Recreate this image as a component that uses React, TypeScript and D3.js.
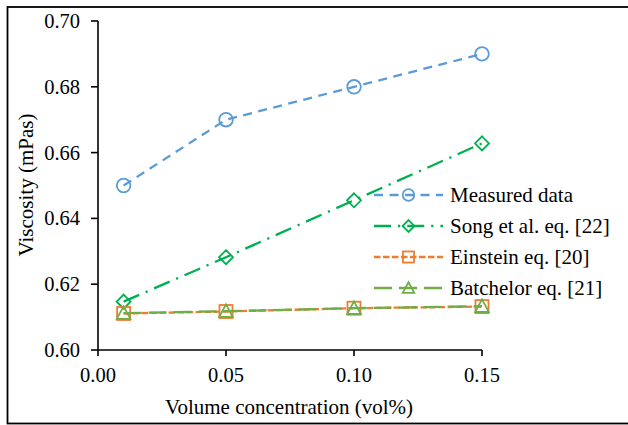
import React from "react";
import * as d3 from "d3";

// Volume concentration (vol%) for every series
const concentrations = [0.01, 0.05, 0.1, 0.15];

// Viscosity (mPas)
const measured = [0.65, 0.67, 0.68, 0.69];
const song = [0.6147, 0.6282, 0.6455, 0.6628];
const einstein = [0.6111, 0.6117, 0.6127, 0.6132];
const batchelor = [0.6112, 0.6118, 0.6127, 0.6133];

const xTicks = [0, 0.05, 0.1, 0.15];
const yTicks = [0.6, 0.62, 0.64, 0.66, 0.68, 0.7];

const seriesNames = [
  "Measured data",
  "Song et al. eq. [22]",
  "Einstein eq. [20]",
  "Batchelor eq. [21]",
];

type Marker = "circle" | "diamond" | "square" | "triangle";

const series: { name: string; values: number[]; color: string; dash: string; marker: Marker }[] = [
  { name: seriesNames[0], values: measured, color: "#5B9BD5", dash: "9,6.5", marker: "circle" },
  { name: seriesNames[1], values: song, color: "#00B050", dash: "17,7,2.2,7", marker: "diamond" },
  { name: seriesNames[2], values: einstein, color: "#ED7D31", dash: "6.5,2.5", marker: "square" },
  { name: seriesNames[3], values: batchelor, color: "#70AD47", dash: "18,7", marker: "triangle" },
];

const W = 628;
const H = 425;
const FONT = "Liberation Serif";
const BASE = 18;

const x = d3.scaleLinear().domain([0, 0.15]).range([98, 482]);
const y = d3.scaleLinear().domain([0.6, 0.7]).range([350, 21]);

// Serif label drawn at a base size and scaled up to the wanted size
function Label({
  tx,
  ty,
  size,
  anchor = "start",
  rotate = 0,
  children,
}: {
  tx: number;
  ty: number;
  size: number;
  anchor?: "start" | "middle" | "end";
  rotate?: number;
  children: React.ReactNode;
}) {
  const k = size / BASE;
  return (
    <g transform={`translate(${tx},${ty}) rotate(${rotate}) scale(${k})`}>
      <text x={0} y={0} fontSize={BASE} fontFamily={FONT} textAnchor={anchor} fill="#000">
        {children}
      </text>
    </g>
  );
}

function MarkerShape({ kind, cx, cy, color, s = 1 }: { kind: Marker; cx: number; cy: number; color: string; s?: number }) {
  const common = { fill: "none", stroke: color, strokeWidth: 1.8 };
  if (kind === "circle") return <circle cx={cx} cy={cy} r={6.8 * s} {...common} />;
  if (kind === "diamond") {
    const r = 7 * s;
    return <path d={`M${cx},${cy - r}L${cx + r},${cy}L${cx},${cy + r}L${cx - r},${cy}Z`} {...common} />;
  }
  if (kind === "square") {
    const h = 6.5 * s;
    return <rect x={cx - h} y={cy - h} width={2 * h} height={2 * h} {...common} />;
  }
  const h = 6.8 * s;
  return <path d={`M${cx},${cy - h}L${cx + h},${cy + h * 0.85}L${cx - h},${cy + h * 0.85}Z`} {...common} />;
}

export default function App() {
  const line = d3
    .line<number>()
    .x((_, i) => x(concentrations[i]))
    .y((v) => y(v));

  const legendX0 = 374;
  const legendX1 = 443;
  const legendTextX = 450;
  const legendY = (i: number) => 195 + i * 31;

  return (
    <svg
      width={W}
      height={H}
      viewBox={`0 0 ${W} ${H}`}
      style={{ position: "absolute", left: 0, top: 0, background: "#fff" }}
    >
      <rect x={0} y={0} width={W} height={H} fill="#fff" />
      <rect x={7.5} y={7} width={640} height={416.5} fill="none" stroke="#000" strokeWidth={1.8} />

      {/* axes */}
      <line x1={x(0)} x2={x(0)} y1={y(0.7)} y2={y(0.6)} stroke="#000" strokeWidth={1.6} />
      <line x1={x(0)} x2={x(0.15)} y1={y(0.6)} y2={y(0.6)} stroke="#000" strokeWidth={1.6} />
      {yTicks.map((t) => (
        <g key={`y${t}`}>
          <line x1={x(0) - 7} x2={x(0)} y1={y(t)} y2={y(t)} stroke="#000" strokeWidth={1.6} />
          <Label tx={80} ty={y(t) + 7} size={20.5} anchor="end">
            {t.toFixed(2)}
          </Label>
        </g>
      ))}
      {xTicks.map((t) => (
        <g key={`x${t}`}>
          <line x1={x(t)} x2={x(t)} y1={y(0.6)} y2={y(0.6) + 6} stroke="#000" strokeWidth={1.6} />
          <Label tx={x(t)} ty={382} size={20.5} anchor="middle">
            {t.toFixed(2)}
          </Label>
        </g>
      ))}

      <Label tx={289} ty={414} size={21} anchor="middle">
        Volume concentration (vol%)
      </Label>
      <Label tx={33} ty={185} size={21} anchor="middle" rotate={-90}>
        Viscosity (mPas)
      </Label>

      {/* series */}
      {series.map((s) => (
        <g key={s.name}>
          <path
            d={line(s.values) ?? ""}
            fill="none"
            stroke={s.color}
            strokeWidth={2.3}
            strokeDasharray={s.dash}
          />
          {s.values.map((v, i) => (
            <MarkerShape key={i} kind={s.marker} cx={x(concentrations[i])} cy={y(v)} color={s.color} />
          ))}
        </g>
      ))}

      {/* legend */}
      {series.map((s, i) => (
        <g key={`lg${s.name}`}>
          <line
            x1={legendX0}
            x2={legendX1}
            y1={legendY(i)}
            y2={legendY(i)}
            stroke={s.color}
            strokeWidth={2.3}
            strokeDasharray={s.dash}
          />
          <MarkerShape kind={s.marker} cx={(legendX0 + legendX1) / 2} cy={legendY(i)} color={s.color} s={0.85} />
          <Label tx={legendTextX} ty={legendY(i) + 7} size={21}>
            {s.name}
          </Label>
        </g>
      ))}
    </svg>
  );
}
